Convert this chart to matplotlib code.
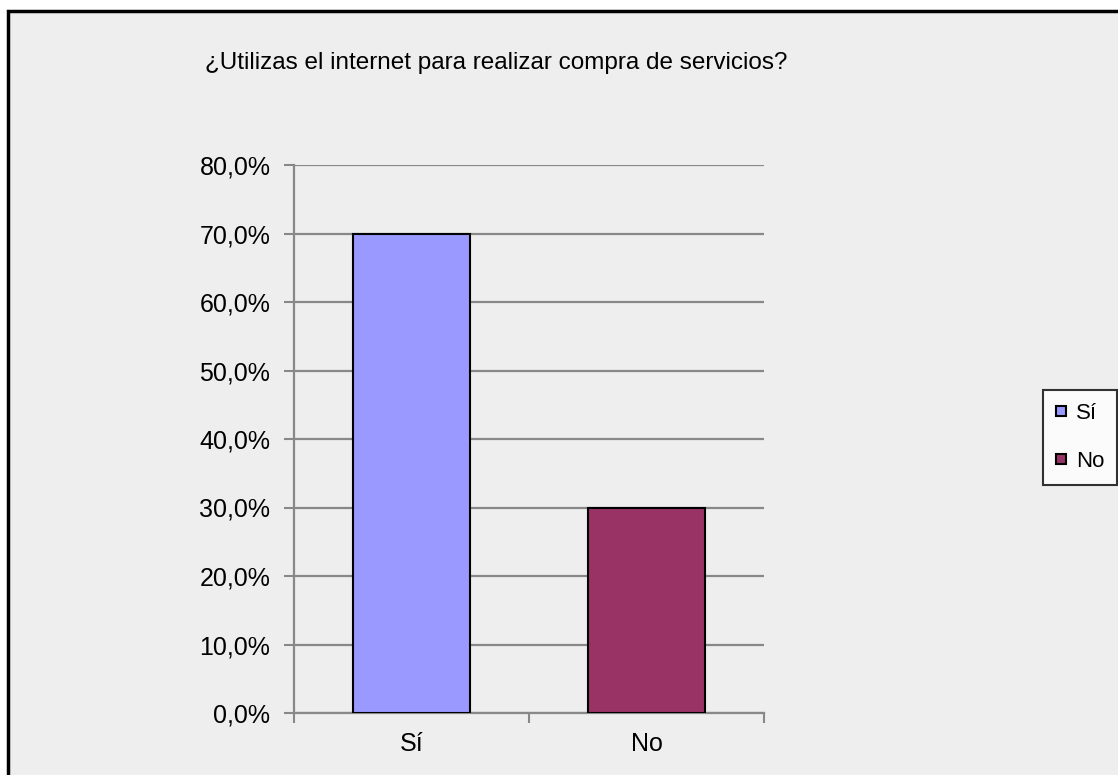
import matplotlib
matplotlib.use("Agg")
import matplotlib.pyplot as plt
from matplotlib.patches import Rectangle
from matplotlib.ticker import FuncFormatter, FixedLocator

categories = ["Sí", "No"]
values = [0.70, 0.30]
colors = ["#9999FF", "#993366"]
y_ticks = [0.0, 0.1, 0.2, 0.3, 0.4, 0.5, 0.6, 0.7, 0.8]
title = "¿Utilizas el internet para realizar compra de servicios?"

plt.rcParams["font.family"] = ["Liberation Sans Narrow", "Liberation Sans", "DejaVu Sans"]

fig = plt.figure(figsize=(11.18, 7.75), dpi=100)
fig.patch.set_facecolor("white")

# grey chart area with black frame (cut off at right/bottom like the original)
fig.patches.append(Rectangle((8 / 1118, -0.1), 1.2, 1 - 11 / 775 + 0.1,
                             transform=fig.transFigure, facecolor="#EEEEEE",
                             edgecolor="black", linewidth=2.5, zorder=-10))

ax = fig.add_axes([294 / 1118, 1 - 713 / 775, 470 / 1118, 548 / 775])
ax.set_facecolor("none")

x = list(range(len(categories)))
bars = ax.bar(x, values, width=0.5, color=colors, edgecolor="black", linewidth=1.5, zorder=3)

ax.set_xlim(-0.5, len(categories) - 0.5)
ax.set_ylim(0, 0.8)
ax.set_yticks(y_ticks)
ax.yaxis.set_major_formatter(FuncFormatter(lambda v, p: f"{v * 100:.1f}%".replace(".", ",")))
ax.yaxis.grid(True, color="#888888", linewidth=1.6, zorder=0)
ax.set_axisbelow(True)

ax.xaxis.set_major_locator(FixedLocator([-0.5, 0.5, 1.5]))
ax.xaxis.set_major_formatter(FuncFormatter(lambda v, p: ""))
ax.xaxis.set_minor_locator(FixedLocator(x))
ax.set_xticklabels(categories, minor=True)
ax.tick_params(axis="x", which="minor", length=0, pad=14, labelsize=18)
ax.tick_params(axis="x", which="major", length=7, width=1.5, color="#888888")
ax.tick_params(axis="y", length=7, width=1.5, color="#888888", pad=10, labelsize=18)

for s in ["top", "right"]:
    ax.spines[s].set_visible(False)
for s in ["left", "bottom"]:
    ax.spines[s].set_color("#888888")
    ax.spines[s].set_linewidth(1.6)

fig.text(205 / 1118, 1 - 63 / 775, title, fontsize=17.5, va="center", ha="left")

leg = fig.legend(bars, categories, loc="upper left",
                 bbox_to_anchor=(1043 / 1118, 1 - 390 / 775), borderaxespad=0,
                 fontsize=16, frameon=True, fancybox=False, edgecolor="black",
                 handlelength=0.42, handleheight=0.3, handletextpad=0.45,
                 labelspacing=1.2, borderpad=0.6)
leg.get_frame().set_linewidth(1.5)
leg.get_frame().set_facecolor("white")

fig.savefig("out.png", dpi=100)
